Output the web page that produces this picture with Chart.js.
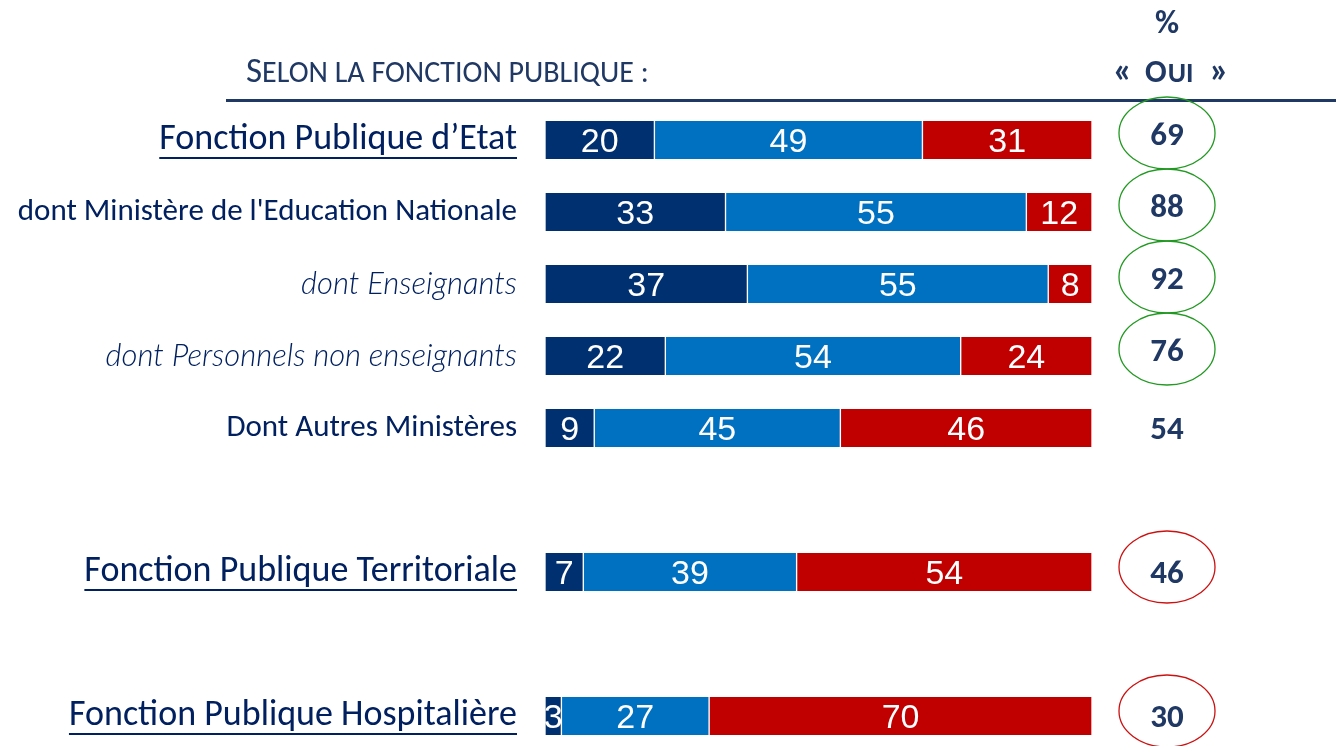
<!DOCTYPE html>
<html lang="fr">
<head>
<meta charset="utf-8">
<script src="https://cdn.jsdelivr.net/npm/chart.js@4.4.1/dist/chart.umd.min.js"></script>
<style>
body{margin:0;background:#fff;}
#wrap{width:1340px;height:746px;}
</style>
</head>
<body>
<div id="wrap"><canvas id="grafico" width="1340" height="746"></canvas></div>
<script>

// categories ('' = empty slot used as a gap between groups)
const categories=[
"Fonction Publique d\u2019Etat",
"dont Minist\u00e8re de l'Education Nationale",
"dont Enseignants",
"dont Personnels non enseignants",
"Dont Autres Minist\u00e8res",
"",
"Fonction Publique Territoriale",
"",
"Fonction Publique Hospitali\u00e8re"
];

const ouiToutAFait=[20,33,37,22,9,null,7,null,3];
const ouiPlutot=[49,55,55,54,45,null,39,null,27];
const non=[31,12,8,24,46,null,54,null,70];

const pctOui=[69,88,92,76,54,null,46,null,30];

// style of each row label: main / sub / italic
const labelKind=["main","sub","ital","ital","sub","","main","","main"];
// circle colour around % oui
const circleKind=["g","g","g","g","","","r","","r"];

const NAVY="#002060";
const FAM="Carlito, Calibri, Lato, sans-serif";
const FAM_LIGHT="'Lato Light', Carlito, Calibri, Lato, sans-serif";

function labelFont(i){
let k=labelKind[i];
if(k=="main") return {family:FAM,size:36,weight:"normal",style:"normal"};
if(k=="ital") return {family:FAM_LIGHT,size:31,weight:"300",style:"italic"};
return {family:FAM,size:31,weight:"normal",style:"normal"};
}

function cssFont(f){
return f.style+" "+f.weight+" "+f.size+"px "+f.family;
}

const decor={
id:"decor",
afterDraw(chart){
let ctx=chart.ctx;
let y=chart.scales.y;
ctx.save();

// header
ctx.fillStyle="#1F3864";
ctx.textBaseline="alphabetic";
let x=246;
ctx.font="35px "+FAM;
ctx.fillText("S",x,82);
x+=ctx.measureText("S").width;
ctx.font="30px "+FAM;
ctx.fillText("ELON LA FONCTION PUBLIQUE :",x,82);

ctx.strokeStyle="#1F3864";
ctx.lineWidth=3;
ctx.beginPath();
ctx.moveTo(226,100.5);
ctx.lineTo(1336,100.5);
ctx.stroke();

// column title
ctx.fillStyle="#1F3864";
ctx.textAlign="center";
ctx.font="bold 33px "+FAM;
ctx.fillText("%",1167,33);
ctx.textAlign="left";
ctx.font="bold 36px "+FAM;
ctx.fillText("\u00ab",1113,82);
ctx.font="bold 32px "+FAM;
ctx.fillText("O",1145,82);
let ow=ctx.measureText("O").width;
ctx.font="bold 28px "+FAM;
ctx.fillText("UI",1145+ow+1,82);
ctx.font="bold 36px "+FAM;
ctx.textAlign="right";
ctx.fillText("\u00bb",1229,82);

// underline main labels
categories.forEach((c,i)=>{
if(labelKind[i]!="main") return;
ctx.font=cssFont(labelFont(i));
let tw=ctx.measureText(c).width;
let cy=y.getPixelForValue(i);
ctx.strokeStyle=NAVY;
ctx.lineWidth=2;
ctx.beginPath();
ctx.moveTo(517-tw,cy+18);
ctx.lineTo(517,cy+18);
ctx.stroke();
});

// % oui + circles
ctx.textAlign="center";
pctOui.forEach((v,i)=>{
if(v==null) return;
let cy=y.getPixelForValue(i);
let up=circleKind[i]=="g"?7:1;
ctx.fillStyle="#1F3864";
ctx.font="bold 33px "+FAM;
ctx.fillText(v,1167,cy-up+12);
if(circleKind[i]){
let cu=circleKind[i]=="g"?7:5;
ctx.strokeStyle=circleKind[i]=="g"?"#229922":"#CC1111";
ctx.lineWidth=1.3;
ctx.beginPath();
ctx.ellipse(1167,cy-cu,48,36,0,0,Math.PI*2);
ctx.stroke();
}
});

ctx.restore();
},
afterDatasetsDraw(chart){
let ctx=chart.ctx;
ctx.save();
ctx.fillStyle="#fff";
ctx.font="34px 'Liberation Sans', Arial, sans-serif";
ctx.textAlign="center";
ctx.textBaseline="alphabetic";
chart.data.datasets.forEach((ds,i)=>{
let meta=chart.getDatasetMeta(i);
meta.data.forEach((bar,j)=>{
let v=ds.data[j];
if(v==null) return;
let p=bar.getProps(["x","y","base","height"],true);
ctx.save();
ctx.beginPath();
ctx.rect(p.base,p.y-p.height/2,p.x-p.base,p.height);
ctx.clip();
ctx.fillText(v,(p.x+p.base)/2,p.y+12);
ctx.restore();
});
});
ctx.restore();
}
};

function serie(label,data,color){
return {
label:label,
data:data,
backgroundColor:color,
borderColor:"#fff",
borderWidth:{left:1,right:1,top:0,bottom:0},
borderSkipped:false,
barThickness:38,
clip:false
};
}

new Chart(
document.getElementById("grafico"),
{
type:"bar",
data:{
labels:categories,
datasets:[
serie("Oui, tout \u00e0 fait",ouiToutAFait,"#003070"),
serie("Oui, plut\u00f4t",ouiPlutot,"#0070C0"),
serie("Non",non,"#C00000")
]
},
options:{
indexAxis:"y",
responsive:false,
animation:false,
devicePixelRatio:1,
layout:{padding:{left:0,right:248,top:140,bottom:30}},
plugins:{legend:{display:false},tooltip:{enabled:false}},
scales:{
x:{stacked:true,min:0,max:100,display:false},
y:{
stacked:true,
offset:false,
grid:{display:false,drawTicks:false},
border:{display:false},
afterFit(s){s.width=545;s.paddingTop=0;s.paddingBottom=0;},
ticks:{
autoSkip:false,
padding:28,
color:NAVY,
font:(c)=>labelFont(c.index)
}
}
}
},
plugins:[decor]
}
);

</script>
</body>
</html>
